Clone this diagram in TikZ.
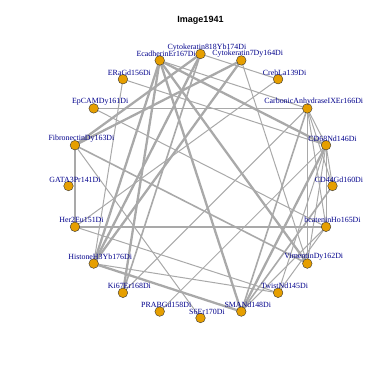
\documentclass[tikz,border=0pt]{standalone}
\usepackage{fontspec}
\setmainfont{Liberation Serif}
\newfontfamily\titlefont{Liberation Sans}
\definecolor{EdgeClr}{HTML}{A9A9A9}
\definecolor{VtxClr}{HTML}{E69F00}
\definecolor{LblClr}{HTML}{00008B}
\tikzset{
  vtx/.style={circle,draw=black!80,line width=.4pt,fill=VtxClr,minimum size=9.6pt,inner sep=0pt},
  lbl/.style={text=LblClr,font=\fontsize{7.9}{8}\selectfont,inner sep=0pt},
  lw1/.style={draw=EdgeClr,line width=1pt},
  lw2/.style={draw=EdgeClr,line width=1.6pt},
  lw3/.style={draw=EdgeClr,line width=2.3pt}
}

\begin{document}
\begin{tikzpicture}[x=1pt,y=1pt]
\useasboundingbox (0,0) rectangle (382,382);
\node[font=\titlefont\bfseries\fontsize{9}{10}\selectfont] (title) at (200.5,362) {Image1941};

\begin{scope}[shift={(200.5,196)}]
% vertices, clockwise from the top
\foreach \nm [count=\k from 0] in {CkE,CkS,Creb,CAIX,CDsix,CDfour,bcat,Vim,Twist,SMA,
    Ssix,PRAB,Kisix,Hist,Her,GATA,Fib,EpCAM,ERa,Ecad}
  \coordinate (\nm) at ({90-18*\k}:132);

% strong edges
\foreach \a/\b in {Her/bcat,Ecad/Hist,Ecad/CDsix,Ecad/Vim,Ecad/SMA,CkE/Hist,
    Ecad/Kisix,CkE/Fib,CkS/Fib,CkS/Hist,Hist/SMA,CDsix/SMA}
  \draw[lw3] (\a) -- (\b);
% medium edges
\foreach \a/\b in {EpCAM/CAIX,Fib/Her,Fib/Vim,CAIX/SMA,CkE/Kisix,CDfour/SMA}
  \draw[lw2] (\a) -- (\b);
% weak edges
\foreach \a/\b in {CkS/Vim,CkE/Creb,Ecad/CAIX,Creb/Her,CAIX/Kisix,CAIX/CDsix,
    CAIX/CDfour,CAIX/Vim,CAIX/bcat,CDsix/CDfour,CDsix/bcat,CDsix/Twist,
    CDsix/PRAB,CDsix/Vim,bcat/Twist,bcat/SMA,Her/Twist,Hist/Twist,
    ERa/CDsix,ERa/Hist,EpCAM/bcat,Ssix/Fib}
  \draw[lw1] (\a) -- (\b);

% vertex discs and labels
\foreach \nm/\txt in {CkE/Cytokeratin818Yb174Di,CkS/Cytokeratin7Dy164Di,Creb/CrebLa139Di,
    CAIX/CarbonicAnhydraseIXEr166Di,CDsix/CD68Nd146Di,CDfour/CD44Gd160Di,
    bcat/bcateninHo165Di,Vim/VimentinDy162Di,Twist/TwistNd145Di,SMA/SMANd148Di,
    Ssix/S6Er170Di,PRAB/PRABGd158Di,Kisix/Ki67Er168Di,Hist/HistoneH3Yb176Di,
    Her/Her2Eu151Di,GATA/GATA3Pr141Di,Fib/FibronectinDy163Di,EpCAM/EpCAMDy161Di,
    ERa/ERaGd156Di,Ecad/EcadherinEr167Di}{
  \node[vtx] (v\nm) at (\nm) {};
  \node[lbl] (l\nm) at ([shift={(6.5,6.5)}]\nm) {\txt};
}
\end{scope}
\end{tikzpicture}
\end{document}
